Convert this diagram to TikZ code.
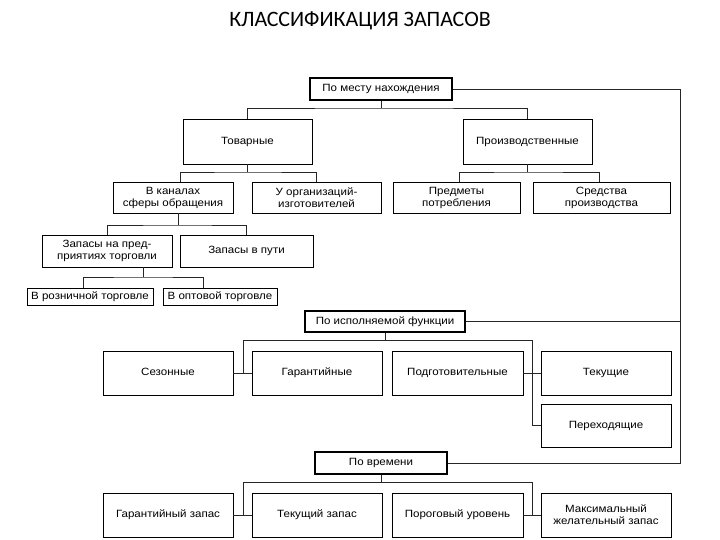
\documentclass[tikz,border=0pt]{standalone}
\usepackage{fontspec}
\setmainfont[FakeStretch=1.1]{Liberation Sans}
\newfontfamily\titlefont{Carlito}
\begin{document}
\begin{tikzpicture}[x=1pt,y=-1pt,
  box/.style={draw, line width=0.9pt, align=center, inner sep=0pt,
    font=\fontsize{10.5}{12}\selectfont},
  one/.style={text height=7.5pt, text depth=2.2pt},
  headbox/.style={box, one, line width=2.2pt},
  conn/.style={line width=0.7pt, draw=black!85}]
\useasboundingbox[fill=white] (0,0) rectangle (720,540);
\node[font=\titlefont\fontsize{22}{24}\selectfont] (title) at (360,21) {КЛАССИФИКАЦИЯ ЗАПАСОВ};
% --- by location ---
\node[headbox, minimum width=142, minimum height=22] (top) at (381,89) {По месту нахождения};
\node[box, one, minimum width=129, minimum height=45] (tov) at (247.5,141.5) {Товарные};
\node[box, one, minimum width=129, minimum height=45] (proizv) at (527.5,141.5) {Производственные};
\node[box, minimum width=120, minimum height=31] (kan) at (173,197.5) {В каналах\\сферы обращения};
\node[box, minimum width=129, minimum height=31] (org) at (316.5,197.5) {У организаций-\\изготовителей};
\node[box, minimum width=127, minimum height=31] (pred) at (456.5,197.5) {Предметы\\потребления};
\node[box, minimum width=137, minimum height=31] (sred) at (601.5,197.5) {Средства\\производства};
\node[box, minimum width=130, minimum height=32] (zap) at (107,251) {Запасы на пред-\\приятиях торговли};
\node[box, one, minimum width=133, minimum height=32] (put) at (246.5,251) {Запасы в пути};
\node[box, one, minimum width=126, minimum height=17] (rozn) at (90,296.5) {В розничной торговле};
\node[box, one, minimum width=114, minimum height=17] (opt) at (220,296.5) {В оптовой торговле};
% --- by function ---
\node[headbox, minimum width=160, minimum height=21] (func) at (385,321.5) {По исполняемой функции};
\node[box, one, minimum width=130, minimum height=44] (sez) at (168,373) {Сезонные};
\node[box, one, minimum width=130, minimum height=44] (gar) at (317,373) {Гарантийные};
\node[box, one, minimum width=131, minimum height=44] (podg) at (457.5,373) {Подготовительные};
\node[box, one, minimum width=130, minimum height=44] (tek) at (606,373) {Текущие};
\node[box, one, minimum width=130, minimum height=43] (per) at (606,425.5) {Переходящие};
% --- by time ---
\node[headbox, minimum width=132, minimum height=22] (time) at (381,463) {По времени};
\node[box, one, minimum width=130, minimum height=44] (gz) at (168,515) {Гарантийный запас};
\node[box, one, minimum width=130, minimum height=44] (tz) at (317,515) {Текущий запас};
\node[box, one, minimum width=131, minimum height=44] (por) at (457.5,515) {Пороговый уровень};
\node[box, minimum width=130, minimum height=44] (mx) at (606,515) {Максимальный\\желательный запас};
% --- connectors: top tree ---
\coordinate (j1) at (381,108);
\draw[conn] (top) -- (j1);
\draw[conn] (tov.north) |- (j1) -| (proizv.north);
\coordinate (j2) at (247.5,172);
\draw[conn] (tov) -- (j2);
\draw[conn] ([xshift=7pt]kan.north) |- (j2) -| (org.north);
\coordinate (j3) at (527.5,172);
\draw[conn] (proizv) -- (j3);
\draw[conn] ([xshift=2.5pt]pred.north) |- (j3) -| ([xshift=-2.5pt]sred.north);
\coordinate (j4) at (178,225);
\draw[conn] ([xshift=5pt]kan.south) -- (j4);
\draw[conn] (zap.north) |- (j4) -| (put.north);
\coordinate (j5) at (143,277);
\draw[conn] ([xshift=36pt]zap.south) -- (j5);
\draw[conn] ([xshift=-7pt]rozn.north) |- (j5) -| ([xshift=-17pt]opt.north);
% --- connectors: function ---
\coordinate (f1) at (385,340);
\coordinate (fl) at (243,340);
\coordinate (fr) at (532,340);
\draw[conn] (func) -- (f1);
\draw[conn] (fl) -- (fr);
\draw[conn] (sez.east) -- (gar.west);
\draw[conn] (fl) -- (fl |- sez.east);
\draw[conn] (podg.east) -- (tek.west);
\draw[conn] (fr) |- (per.west);
% --- connectors: time ---
\coordinate (t1) at (381,482);
\coordinate (tl) at (243,482);
\coordinate (tr) at (532,482);
\draw[conn] (time) -- (t1);
\draw[conn] (tl) -- (tr);
\draw[conn] (gz.east) -- (tz.west);
\draw[conn] (tl) -- (tl |- gz.east);
\draw[conn] (por.east) -- (mx.west);
\draw[conn] (tr) -- (tr |- mx.west);
% --- right spine ---
\coordinate (r1) at (680,89);
\coordinate (r3) at (680,463);
\draw[conn] (top.east) -- (r1) -- (r3) -- (time.east);
\draw[conn] (func.east) -- (func.east -| r1);
\end{tikzpicture}
\end{document}
